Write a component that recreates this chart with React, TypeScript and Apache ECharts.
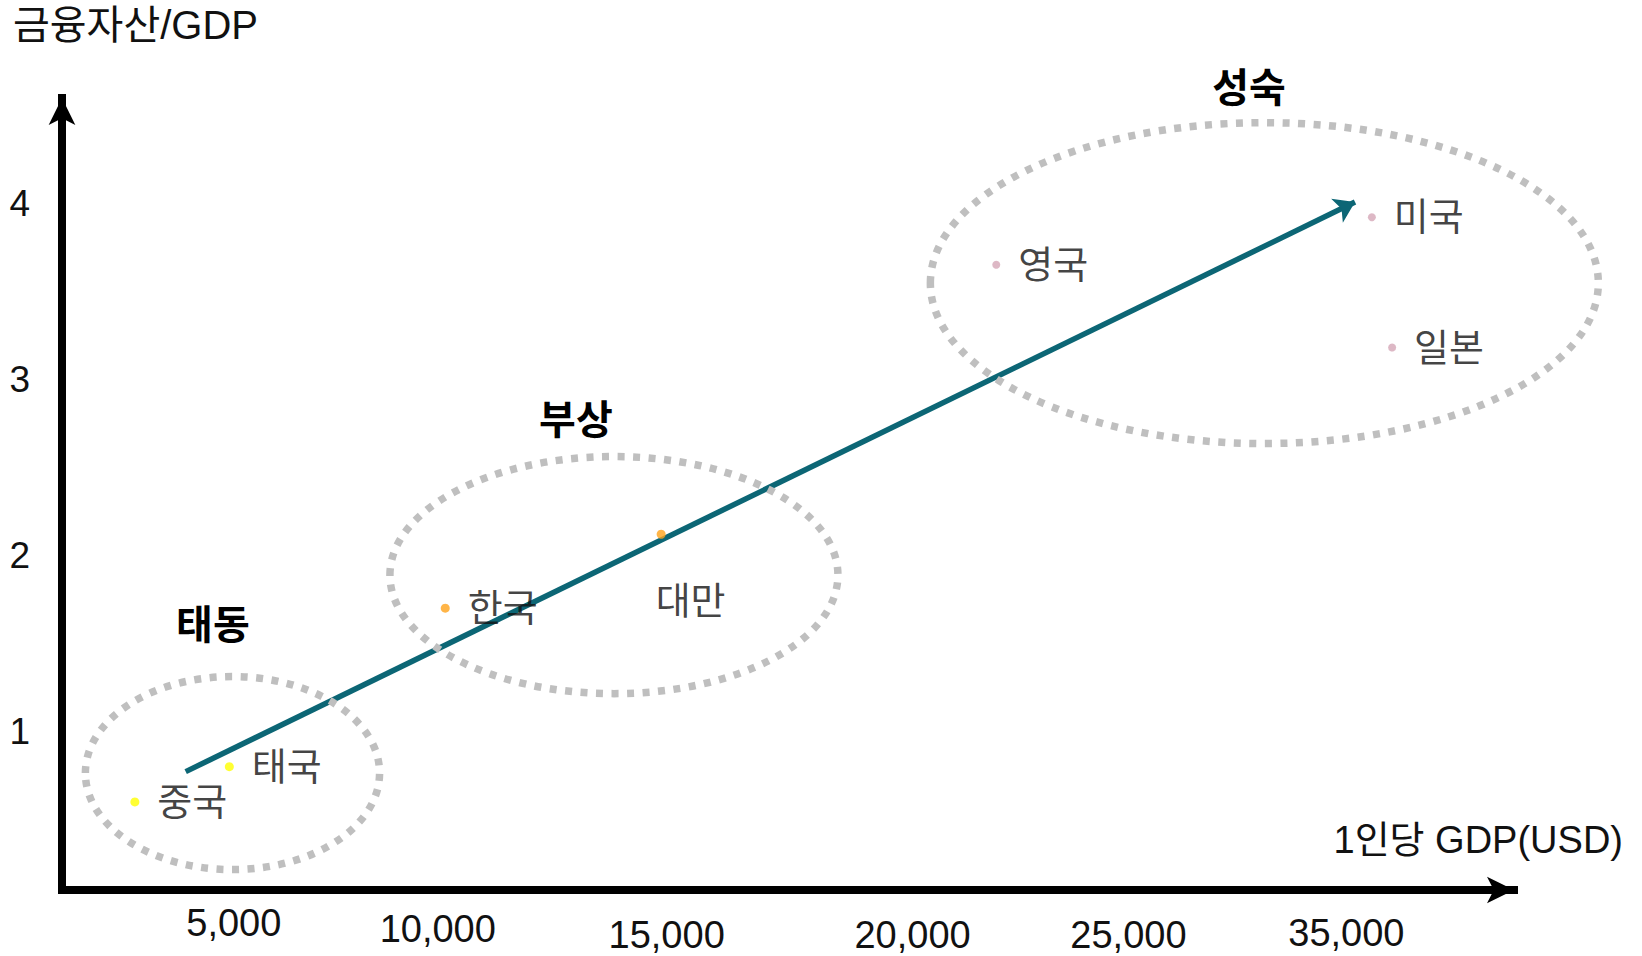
import { useEffect, useRef } from 'react';
import * as echarts from 'echarts';

// Countries placed by per-capita GDP (on the stepped 5,000 … 35,000 scale) and financial assets / GDP
const countryNames = ['중국', '태국', '한국', '대만', '영국', '미국', '일본'];
const gdpSlot = [0.6, 1.02, 1.98, 2.94, 4.43, 6.1, 6.19];
const assetToGdp = [0.6, 0.8, 1.7, 2.12, 3.65, 3.92, 3.18];
const countryStage = [0, 0, 1, 1, 2, 2, 2];

// Axis ticks: slot 1 = 5,000 USD … slot 6 = 35,000 USD
const xTickSlots = [1, 2, 3, 4, 5, 6];
const xTickLabels = ['5,000', '10,000', '15,000', '20,000', '25,000', '35,000'];
const yTickValues = [1, 2, 3, 4];

// Development stages, each circled by a dotted ellipse
const stageNames = ['태동', '부상', '성숙'];
const stageCenterX = [1.034, 2.73, 5.622];
const stageCenterY = [0.764, 1.888, 3.546];
const stageRadiusX = [0.654, 0.996, 1.485];
const stageRadiusY = [0.548, 0.673, 0.911];
const stageTitleX = [0.947, 2.561, 5.554];
const stageTitleY = [1.604, 2.768, 4.653];

// Overall trend arrow
const trendStart = [0.826, 0.772];
const trendEnd = [6.025, 4.006];

const FONT = '"Liberation Sans", "Noto Sans CJK KR", sans-serif';
const stageColors = ['#ffff00', '#ffa31a', '#d4a6b6'];
// hand-set nudges of the x tick labels (down, sideways), in px
const labelDrop = [0, 12, 23, 23, 23, 19];
const labelShift = [9, -12, -8, 13, 4, -3];

export default function App() {
  const ref = useRef<HTMLDivElement>(null);

  useEffect(() => {
    if (!ref.current) return;
    const chart = echarts.init(ref.current, null, { renderer: 'svg' });

    const rich: Record<string, any> = {};
    labelDrop.forEach((d, i) => {
      const s = labelShift[i];
      rich['t' + i] = {
        fontSize: 38,
        lineHeight: 30,
        fontFamily: FONT,
        color: '#111',
        padding: [d, s < 0 ? -2 * s : 0, 0, s > 0 ? 2 * s : 0],
      };
    });

    const option: any = {
      animation: false,
      backgroundColor: '#ffffff',
      title: {
        text: '금융자산/GDP',
        left: 13,
        top: 5,
        padding: 0,
        textStyle: { fontSize: 40, fontWeight: 'normal', fontFamily: FONT, color: '#111' },
      },
      grid: { left: 62, right: 128, top: 98, bottom: 66, containLabel: false },
      xAxis: {
        type: 'value',
        min: 0.276,
        max: 6.732,
        axisLine: {
          show: true,
          onZero: false,
          symbol: ['none', 'arrow'],
          symbolSize: [20, 27],
          lineStyle: { color: '#000', width: 8, cap: 'square' },
        },
        axisTick: { show: false },
        splitLine: { show: false },
        axisLabel: {
          customValues: xTickSlots,
          margin: 18,
          fontSize: 38,
          fontFamily: FONT,
          color: '#111',
          formatter: (v: number) => {
            const i = xTickSlots.indexOf(Math.round(v));
            return i < 0 ? '' : `{t${i}|${xTickLabels[i]}}`;
          },
          rich,
        },
        name: '1인당 GDP(USD)',
        nameLocation: 'end',
        nameGap: 109,
        nameTextStyle: {
          fontSize: 38,
          fontFamily: FONT,
          color: '#111',
          align: 'right',
          verticalAlign: 'bottom',
          padding: [0, 0, 31, 0],
        },
      },
      yAxis: {
        type: 'value',
        min: 0.1,
        max: 4.597,
        axisLine: {
          show: true,
          onZero: false,
          symbol: ['none', 'arrow'],
          symbolSize: [20, 27],
          lineStyle: { color: '#000', width: 8, cap: 'square' },
        },
        axisTick: { show: false },
        splitLine: { show: false },
        axisLabel: {
          customValues: yTickValues,
          margin: 32,
          fontSize: 37,
          fontFamily: FONT,
          color: '#111',
          align: 'right',
        },
      },
      series: [
        {
          type: 'lines',
          coordinateSystem: 'cartesian2d',
          z: 2,
          symbol: ['none', 'arrow'],
          symbolSize: [14, 20],
          lineStyle: { color: '#0c6675', width: 5.5, opacity: 1, curveness: 0 },
          data: [{ coords: [trendStart, trendEnd] }],
        },
        {
          type: 'custom',
          coordinateSystem: 'cartesian2d',
          z: 3,
          clip: false,
          encode: { x: 0, y: 1 },
          data: stageNames.map((_, i) => [
            stageCenterX[i],
            stageCenterY[i],
            stageRadiusX[i],
            stageRadiusY[i],
            stageTitleX[i],
            stageTitleY[i],
          ]),
          renderItem: (params: any, api: any) => {
            const c = api.coord([api.value(0), api.value(1)]);
            const r = api.size([api.value(2), api.value(3)]);
            const t = api.coord([api.value(4), api.value(5)]);
            return {
              type: 'group',
              children: [
                {
                  type: 'ellipse',
                  shape: { cx: c[0], cy: c[1], rx: r[0], ry: r[1] },
                  style: { fill: 'none', stroke: '#bfbfbf', lineWidth: 7.5, lineDash: [7, 8.5] },
                },
                {
                  type: 'text',
                  x: t[0],
                  y: t[1],
                  style: {
                    text: stageNames[params.dataIndex],
                    fontSize: 40,
                    fontWeight: 'bold',
                    fontFamily: FONT,
                    fill: '#000',
                    align: 'center',
                    verticalAlign: 'middle',
                  },
                },
              ],
            };
          },
        },
        {
          type: 'scatter',
          z: 4,
          symbol: 'circle',
          symbolSize: (_: any, p: any) => (countryStage[p.dataIndex] === 2 ? 8 : 9),
          label: {
            show: true,
            position: 'right',
            distance: 18,
            fontSize: 38,
            fontFamily: FONT,
            color: '#111',
            formatter: (p: any) => p.name,
          },
          data: countryNames.map((n, i) => ({
            name: n,
            value: [gdpSlot[i], assetToGdp[i]],
            itemStyle: { color: stageColors[countryStage[i]] },
            label: n === '대만' ? { distance: 0, offset: [-10, 67] } : undefined,
          })),
        },
      ],
    };

    chart.setOption(option);
    return () => chart.dispose();
  }, []);

  return (
    <div
      ref={ref}
      style={{ position: 'fixed', left: 0, top: 0, width: 1642, height: 956, background: '#fff' }}
    />
  );
}
